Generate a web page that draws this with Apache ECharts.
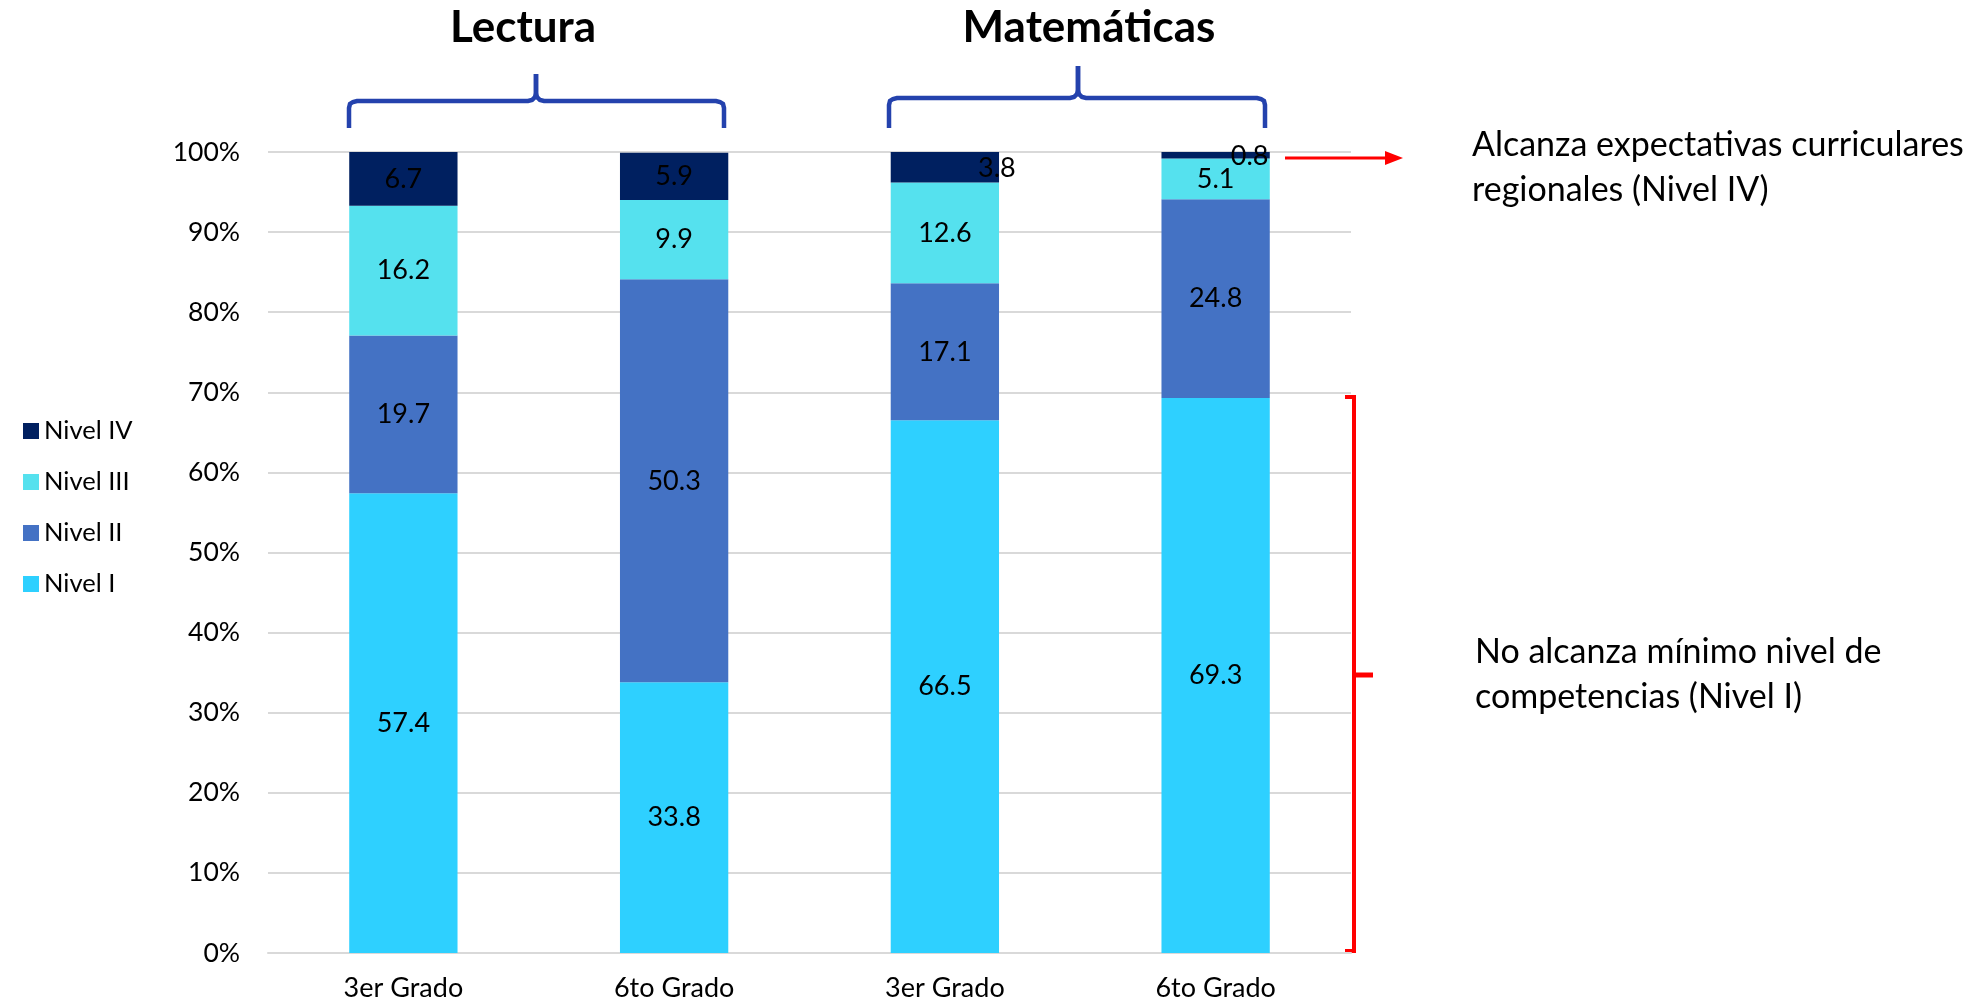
<!DOCTYPE html>
<html>
<head>
<meta charset="utf-8">
<script src="https://cdn.jsdelivr.net/npm/echarts@6/dist/echarts.min.js"></script>
<style>
html,body{margin:0;padding:0;background:#fff;}
#chart{width:1978px;height:1006px;}
</style>
</head>
<body>
<div id="chart"></div>
<script>
// ---- data ----
const categories = ['3er Grado', '6to Grado', '3er Grado', '6to Grado'];
const groupTitles = ['Lectura', 'Matemáticas'];
const seriesNames = ['Nivel I', 'Nivel II', 'Nivel III', 'Nivel IV'];
const nivel1 = [57.4, 33.8, 66.5, 69.3];
const nivel2 = [19.7, 50.3, 17.1, 24.8];
const nivel3 = [16.2, 9.9, 12.6, 5.1];
const nivel4 = [6.7, 5.9, 3.8, 0.8];
const yTicks = [0, 10, 20, 30, 40, 50, 60, 70, 80, 90, 100];
const noteTop = ['Alcanza expectativas curriculares', 'regionales (Nivel IV)'];
const noteBottom = ['No alcanza mínimo nivel de', 'competencias (Nivel I)'];

// ---- styles ----
const colors = ['#2ed0ff', '#4472c4', '#55e1ee', '#002060'];
const FONT = 'Lato, "Open Sans", sans-serif';
const values = [nivel1, nivel2, nivel3, nivel4];
// label offsets for small top segments (as in the original)
const nivel4LabelOffsets = [null, null, [52, 1], [34, 1]];

function halfBrace(xEnd, xTip, yBase, yTip, yLine, dir) {
  const d = dir;
  return [
    [xEnd, yBase], [xEnd, yLine + 7], [xEnd + d * 1, yLine + 3], [xEnd + d * 4, yLine + 1], [xEnd + d * 8, yLine],
    [xTip - d * 8, yLine], [xTip - d * 4, yLine - 1], [xTip - d * 1, yLine - 4], [xTip, yLine - 8], [xTip, yTip]
  ];
}

const chart = echarts.init(document.getElementById('chart'));

const series = seriesNames.map((name, si) => ({
  name: name,
  type: 'bar',
  stack: 'total',
  barWidth: '40%',
  itemStyle: { color: colors[si] },
  label: {
    show: true,
    position: 'inside',
    color: '#000',
    fontFamily: FONT,
    fontSize: 27,
    formatter: p => Number(p.value).toFixed(1)
  },
  data: values[si].map((v, i) => {
    if (si === 3 && nivel4LabelOffsets[i]) {
      return { value: v, label: { offset: nivel4LabelOffsets[i] } };
    }
    return v;
  })
}));

const braceStyle = { fill: null, stroke: '#2442ad', lineWidth: 4.5 };
const redStyle = { fill: null, stroke: '#ff0000', lineWidth: 4 };

const option = {
  animation: false,
  backgroundColor: '#fff',
  grid: { left: 268, right: 627, top: 152, bottom: 53, containLabel: false },
  legend: {
    orient: 'vertical',
    left: 18,
    top: 413,
    data: ['Nivel IV', 'Nivel III', 'Nivel II', 'Nivel I'],
    icon: 'rect',
    itemWidth: 16,
    itemHeight: 16,
    itemGap: 25,
    textStyle: { fontFamily: FONT, fontSize: 25.5, color: '#000' }
  },
  xAxis: {
    type: 'category',
    data: categories,
    axisLine: { show: true, lineStyle: { color: '#d9d9d9', width: 2 } },
    axisTick: { show: false },
    axisLabel: { fontFamily: FONT, fontSize: 27, color: '#000', margin: 22 }
  },
  yAxis: {
    type: 'value',
    min: yTicks[0],
    max: yTicks[yTicks.length - 1],
    interval: yTicks[1] - yTicks[0],
    axisLine: { show: false },
    axisTick: { show: false },
    splitLine: { lineStyle: { color: '#d9d9d9', width: 2 } },
    axisLabel: { formatter: '{value}%', fontFamily: FONT, fontSize: 26.5, color: '#000', margin: 28 }
  },
  series: series,
  graphic: {
    elements: [
      // group titles
      { type: 'text', x: 523, y: 28, style: { text: groupTitles[0], font: 'bold 44px ' + FONT, fill: '#000', align: 'center', verticalAlign: 'middle' } },
      { type: 'text', x: 1089, y: 28, style: { text: groupTitles[1], font: 'bold 44px ' + FONT, fill: '#000', align: 'center', verticalAlign: 'middle' } },
      // braces
      { type: 'polyline', shape: { points: halfBrace(349, 536, 128, 74, 101, 1) }, style: braceStyle },
      { type: 'polyline', shape: { points: halfBrace(724, 536, 128, 74, 101, -1) }, style: braceStyle },
      { type: 'polyline', shape: { points: halfBrace(889, 1078, 128, 66, 98, 1) }, style: braceStyle },
      { type: 'polyline', shape: { points: halfBrace(1265, 1078, 128, 66, 98, -1) }, style: braceStyle },
      // red arrow
      { type: 'line', shape: { x1: 1285, y1: 158, x2: 1390, y2: 158 }, style: { stroke: '#ff0000', lineWidth: 3 } },
      { type: 'polygon', shape: { points: [[1385, 151], [1403, 158], [1385, 165]] }, style: { fill: '#ff0000' } },
      // red bracket
      { type: 'polyline', shape: { points: [[1345, 397], [1354, 397], [1354, 951], [1345, 951]] }, style: redStyle },
      { type: 'line', shape: { x1: 1354, y1: 675, x2: 1373, y2: 675 }, style: { stroke: '#ff0000', lineWidth: 5 } },
      // notes
      { type: 'text', x: 1472, y: 123, style: { text: noteTop.join('\n'), font: '34px ' + FONT, lineHeight: 45, fill: '#000' } },
      { type: 'text', x: 1475, y: 630, style: { text: noteBottom.join('\n'), font: '34px ' + FONT, lineHeight: 45, fill: '#000' } }
    ]
  }
};

chart.setOption(option);
</script>
</body>
</html>
